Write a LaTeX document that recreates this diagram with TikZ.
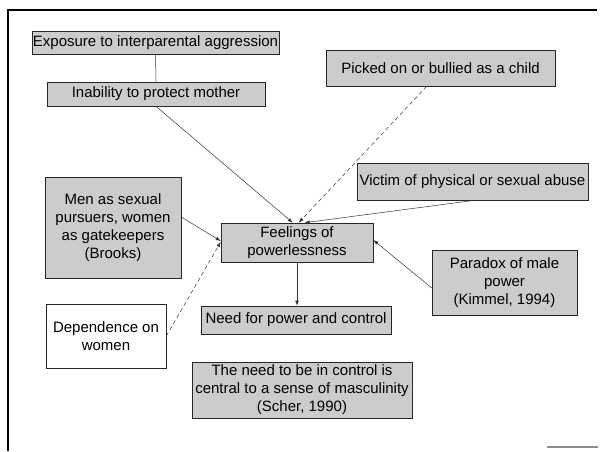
\documentclass[tikz,border=0pt]{standalone}
\usepackage{fontspec}
\setmainfont{Liberation Sans}
\usetikzlibrary{arrows.meta}
\begin{document}
\begin{tikzpicture}[x=1pt,y=-1pt,
  box/.style={draw=black!85, line width=0.6pt, fill=black!20, inner sep=0pt,
    align=center, font=\fontsize{15}{18}\selectfont},
  plainbox/.style={box, fill=white},
  link/.style={draw=black!80, line width=0.5pt},
  arr/.style={link, -{Latex[length=5pt,width=3.6pt]}},
  darr/.style={arr, dash pattern=on 4pt off 3pt}]
\useasboundingbox (0,0) rectangle (601,451);
% slide frame
\draw[line width=1.6pt] (8,451) -- (8,10) -- (597,10);
\draw[line width=1.4pt, black!45] (547,447) -- (598,447);

% boxes
\node[box, minimum width=247pt, minimum height=23pt] (exp) at (155.5,43) {Exposure to interparental aggression};
\node[box, minimum width=218pt, minimum height=24pt] (inab) at (156,94) {Inability to protect mother};
\node[box, minimum width=229pt, minimum height=36pt] (pick) at (440.5,68) {Picked on or bullied as a child};
\node[box, minimum width=231pt, minimum height=37pt] (vict) at (472.5,181.5) {Victim of physical or sexual abuse};
\node[box, minimum width=152pt, minimum height=39pt] (feel) at (297,242.5) {Feelings of\\powerlessness};
\node[box, minimum width=136pt, minimum height=101pt] (men) at (113,227.5) {Men as sexual\\pursuers, women\\as gatekeepers\\(Brooks)};
\node[box, minimum width=145pt, minimum height=65pt] (para) at (504.5,282.5) {Paradox of male\\power\\(Kimmel, 1994)};
\node[plainbox, minimum width=120pt, minimum height=64pt] (dep) at (106,336) {Dependence on\\women};
\node[box, minimum width=190pt, minimum height=28pt] (need) at (296,320) {Need for power and control};
\node[box, minimum width=220pt, minimum height=56pt] (scher) at (302,390) {The need to be in control is\\central to a sense of masculinity\\(Scher, 1990)};

% connectors
\draw[link] (exp.south) -- (inab.north);
\draw[arr] (inab.south) -- ([xshift=72pt]feel.north west);
\draw[darr] ([xshift=101pt]pick.south west) -- ([xshift=78pt]feel.north west);
\draw[arr] ([xshift=118pt]vict.south west) -- ([xshift=84pt]feel.north west);
\draw[arr] ([yshift=10.5pt]men.east) -- ([yshift=1.5pt]feel.west);
\draw[darr] (dep.east) -- ([yshift=0.5pt]feel.west);
\draw[arr] ([yshift=-5.5pt]para.west) -- ([yshift=2.5pt]feel.east);
\draw[arr] (feel.south) -- (feel.south |- need.north);
\end{tikzpicture}
\end{document}
